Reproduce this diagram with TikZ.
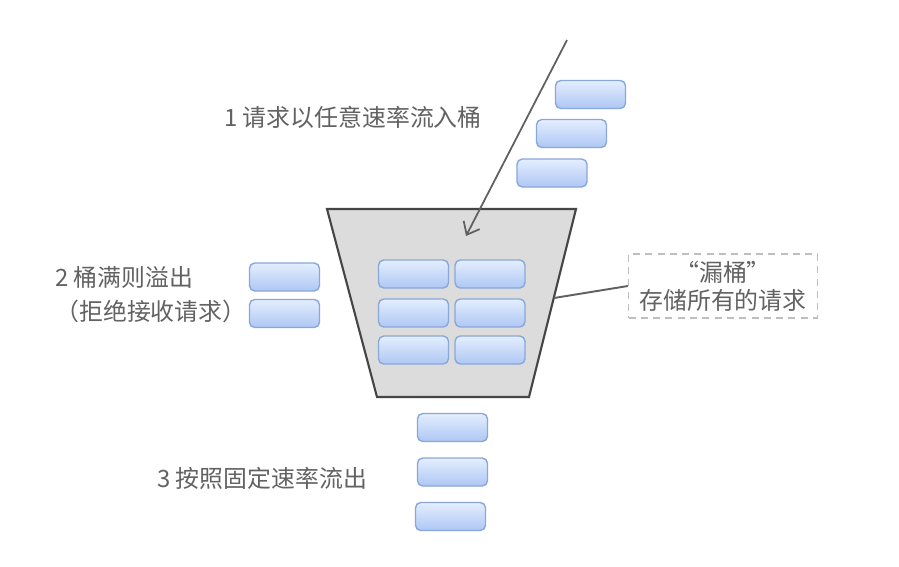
\documentclass[tikz,border=0pt]{standalone}
\usepackage{fontspec}
\newfontfamily\cjk{Noto Sans CJK SC}
\usetikzlibrary{arrows.meta, positioning}

\definecolor{reqtop}{HTML}{E4EEFE}
\definecolor{reqbot}{HTML}{AEC7F4}
\definecolor{reqline}{HTML}{8AA7DA}
\definecolor{bucketfill}{HTML}{DCDCDC}
\definecolor{bucketline}{HTML}{454545}
\definecolor{labelgray}{HTML}{626262}

\begin{document}
\begin{tikzpicture}[
    x=0.02cm, y=-0.02cm,
    req/.style={rectangle, rounded corners=3pt, draw=reqline, line width=0.8pt, top color=reqtop, bottom color=reqbot, minimum width=1.4cm, minimum height=0.56cm, inner sep=0pt},
    bucket/.style={draw=bucketline, fill=bucketfill, line width=1.2pt, line join=miter},
    label_txt/.style={font=\cjk\fontsize{13.6}{19.3}\selectfont, text=labelgray, inner sep=0pt},
    note_box/.style={draw=gray!50, dashed, dash pattern=on 4pt off 3pt, line width=0.8pt, minimum width=3.78cm, minimum height=1.28cm, align=center, font=\cjk\fontsize{13.6}{16}\selectfont, text=labelgray},
    inflow/.style={-{Straight Barb[length=2.2mm, width=3.6mm]}, draw=gray!75!black, line width=1pt},
    link/.style={draw=gray!75!black, line width=1.1pt}
]
    % ========== canvas ==========
    \useasboundingbox[fill=white] (0,0) rectangle (899,566);

    % ========== bucket ==========
    \draw[bucket] (327,209) -- (576,209) -- (529,397) -- (377,397) -- cycle;
    \coordinate (bucket_edge) at (554,298);
    \coordinate (bucket_in) at (466,236);

    % ========== incoming requests ==========
    \node[req] (in1) at (590.5,94.5) {};
    \node[req] (in2) at (571.5,133.5) {};
    \node[req] (in3) at (552,173) {};
    \coordinate (src) at (567,40);
    \draw[inflow] (src) -- (bucket_in);
    \node[label_txt] (in_label) at (353,117) {1 请求以任意速率流入桶};

    % ========== stored requests ==========
    \node[req] (st11) at (413.5,274) {};
    \node[req] (st12) at (490,274) {};
    \node[req] (st21) at (413.5,313) {};
    \node[req] (st22) at (490,313) {};
    \node[req] (st31) at (413.5,350) {};
    \node[req] (st32) at (490,350) {};

    % ========== overflow ==========
    \node[req] (ov1) at (284.5,277) {};
    \node[req] (ov2) at (284.5,313.5) {};
    \node[label_txt, anchor=west, align=left] (ov_label) at (55,295) {2 桶满则溢出\\（拒绝接收请求）};

    % ========== outflow ==========
    \node[req] (out1) at (452.5,427.5) {};
    \node[req] (out2) at (452.5,472) {};
    \node[req] (out3) at (450.5,516.5) {};
    \node[label_txt, anchor=west] (out_label) at (157,478) {3 按照固定速率流出};

    % ========== note ==========
    \node[note_box] (note) at (723,286) {“漏桶”\\存储所有的请求};
    \draw[link] (bucket_edge) -- (note.west);

\end{tikzpicture}
\end{document}
